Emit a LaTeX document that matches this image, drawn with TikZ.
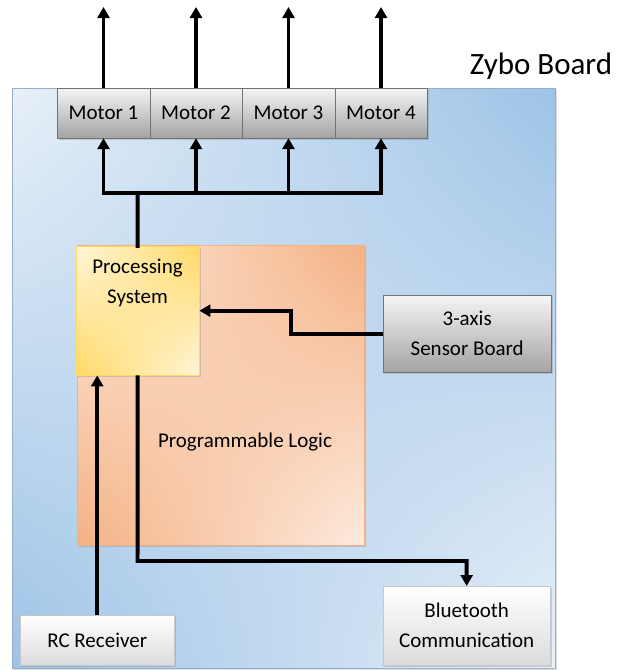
\documentclass[tikz,border=0pt]{standalone}
\usepackage{fontspec}
\setmainfont{Carlito}
\usetikzlibrary{arrows.meta,shadows,shadings}
\definecolor{boardlight}{HTML}{E8F0F9}
\definecolor{boarddark}{HTML}{9DC3E6}
\definecolor{pllight}{HTML}{FDEBDF}
\definecolor{pldark}{HTML}{F4B183}
\definecolor{pslight}{HTML}{FFF6DA}
\definecolor{psdark}{HTML}{FFD966}
\tikzset{
	sig/.style={line width=1.4mm, -{Triangle[width=12pt,length=11pt]}},
	wire/.style={line width=1.4mm, line cap=rect},
	lbl/.style={inner sep=0pt, align=center, font=\fontsize{21}{30}\selectfont},
	box/.style={lbl, draw, drop shadow={shadow xshift=2pt, shadow yshift=-2pt, opacity=0.3}},
	greybox/.style={box, draw=black!55, top color=black!4, bottom color=black!36},
	whitebox/.style={box, draw=black!22, top color=white, bottom color=black!14},
	plbox/.style={box, draw=pldark, upper left=pllight, upper right=pldark, lower left=pldark, lower right=pllight},
	psbox/.style={box, draw=psdark, upper left=pslight, upper right=psdark, lower left=psdark, lower right=pslight}
}
\begin{document}
\begin{tikzpicture}[x=1pt, y=-1pt]
			%%%%% START %%%%%
			\useasboundingbox (0, 0) rectangle (623, 670);
			
			\shade[upper left=boardlight, upper right=boarddark, lower left=boarddark, lower right=boardlight, drop shadow={shadow xshift=2pt, shadow yshift=-2pt, opacity=0.25}] (12, 88) rectangle (555, 668);
			\draw[boarddark!70!gray] (12, 88) rectangle (555, 668);
			\node[font=\fontsize{31}{36}\selectfont] (title) at (541, 66) {Zybo Board};
			
			\node[plbox, minimum width=287pt, minimum height=300pt, anchor=north west] (pl) at (77, 245) {};
			\node[lbl] (pllbl) at (245, 442) {Programmable Logic};
			\node[psbox, minimum width=123pt, minimum height=129pt, anchor=north west] (ps) at (76, 246) {};
			\node[lbl] (pslbl) at (137.5, 283) {Processing\\System};
			
			\foreach \i in {1,...,4}
				\node[greybox, minimum width=92.5pt, minimum height=50pt] (m\i) at ({103.5+92.5*(\i-1)}, 113) {Motor \i};
			
			\node[greybox, minimum width=168pt, minimum height=77pt, anchor=north west] (sensor) at (383, 295) {3-axis\\Sensor Board};
			\node[whitebox, minimum width=154pt, minimum height=50pt, anchor=north west] (rc) at (20, 615) {RC Receiver};
			\node[whitebox, minimum width=167pt, minimum height=79pt, anchor=north west] (bt) at (383, 586) {Bluetooth\\Communication};
			
			% motor outputs
			\foreach \i in {1,...,4} {
				\coordinate (out\i) at (m\i.north |- 0,7);
				\draw[sig] (m\i.north) -- (out\i);
			}
			
			% bus to motors
			\coordinate (bus) at (137.5, 193);
			\draw[wire] (ps.north) -- (bus);
			\draw[wire] (m1.south |- bus) -- (m4.south |- bus);
			\foreach \i in {1,...,4}
				\draw[sig] (m\i.south |- bus) -- (m\i.south);
			
			\draw[sig] (sensor.west) -- ++(-92, 0) |- (ps.east);
			\draw[sig] (rc.north) -- (rc.north |- ps.south);
			
			\coordinate (btbend) at (137.5, 561);
			\draw[sig] (ps.south) -- (btbend) -| (bt.north);
			%%%%% END %%%%%
\end{tikzpicture}
\end{document}
